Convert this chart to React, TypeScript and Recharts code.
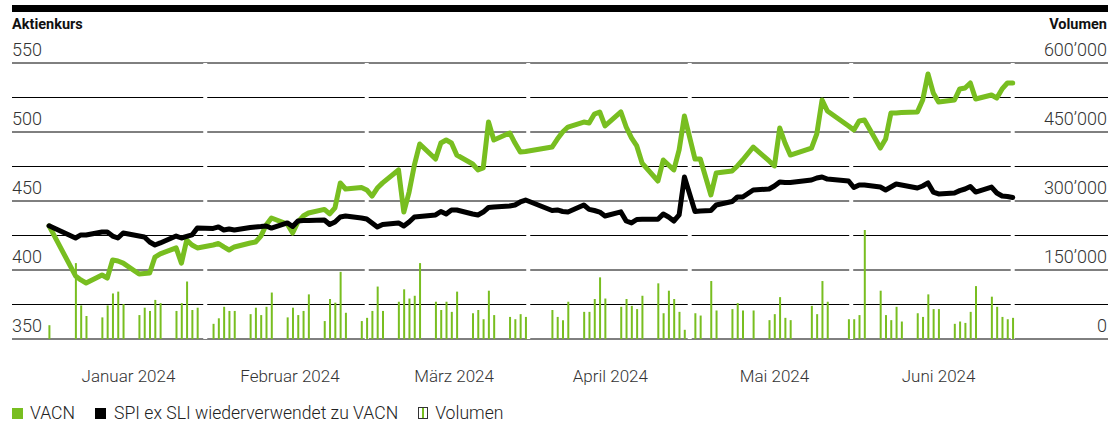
import { ComposedChart, Line, Bar, XAxis, YAxis, CartesianGrid } from "recharts"

const dates = [
  "2023-12-29",
  "2024-01-03", "2024-01-04", "2024-01-05",
  "2024-01-08", "2024-01-09", "2024-01-10", "2024-01-11", "2024-01-12",
  "2024-01-15", "2024-01-16", "2024-01-17", "2024-01-18", "2024-01-19",
  "2024-01-22", "2024-01-23", "2024-01-24", "2024-01-25", "2024-01-26",
  "2024-01-29", "2024-01-30", "2024-01-31", "2024-02-01", "2024-02-02",
  "2024-02-05", "2024-02-06", "2024-02-07", "2024-02-08", "2024-02-09",
  "2024-02-12", "2024-02-13", "2024-02-14", "2024-02-15", "2024-02-16",
  "2024-02-19", "2024-02-20", "2024-02-21", "2024-02-22", "2024-02-23",
  "2024-02-26", "2024-02-27", "2024-02-28", "2024-02-29", "2024-03-01",
  "2024-03-04", "2024-03-05", "2024-03-06", "2024-03-07", "2024-03-08",
  "2024-03-11", "2024-03-12", "2024-03-13", "2024-03-14", "2024-03-15",
  "2024-03-18", "2024-03-19", "2024-03-20", "2024-03-21", "2024-03-22",
  "2024-03-25", "2024-03-26", "2024-03-27", "2024-03-28",
  "2024-04-02", "2024-04-03", "2024-04-04", "2024-04-05",
  "2024-04-08", "2024-04-09", "2024-04-10", "2024-04-11", "2024-04-12",
  "2024-04-15", "2024-04-16", "2024-04-17", "2024-04-18", "2024-04-19",
  "2024-04-22", "2024-04-23", "2024-04-24", "2024-04-25", "2024-04-26", "2024-04-27",
  "2024-04-29", "2024-04-30", "2024-05-02", "2024-05-03",
  "2024-05-06", "2024-05-07", "2024-05-08", "2024-05-10",
  "2024-05-13", "2024-05-14", "2024-05-15", "2024-05-16", "2024-05-17",
  "2024-05-21", "2024-05-22", "2024-05-23", "2024-05-24",
  "2024-05-28", "2024-05-29", "2024-05-30", "2024-05-31",
  "2024-06-03", "2024-06-04", "2024-06-05", "2024-06-06", "2024-06-07",
  "2024-06-10", "2024-06-11", "2024-06-12", "2024-06-13", "2024-06-14",
  "2024-06-17", "2024-06-18", "2024-06-19", "2024-06-20", "2024-06-21",
  "2024-06-24", "2024-06-25", "2024-06-26", "2024-06-27", "2024-06-28",
]

const vacn = [
  432,
  395.7, 392.8, 390.6,
  396.4, 394.2, 407.3, 406.5, 405,
  397.1, 397.5, 397.8, 409.4, 411.7,
  416, 405, 421.7, 418.1, 416,
  418.1, 419.2, 416.7, 414.5, 416.7,
  419.6, 420.3, 424.6, 432.6, 437.7,
  433.3, 426.8, 434.8, 439.1, 441.3,
  443.9, 440.6, 445.1, 463.1, 458.7,
  459.8, 458, 453.6, 459.4, 463.1,
  472.5, 442, 456.5, 476.1, 491.3,
  480.4, 492, 494.2, 492, 483.3,
  476.8, 472.5, 473.9, 507.2, 494.2,
  499.3, 492, 485.5, 485.9,
  489.1, 494.9, 500, 503.6,
  507.2, 506.5, 513, 514.5, 504.4,
  514.5, 503.6, 495.7, 489.9, 477.5,
  464.5, 479.7, 476.1, 472.5, 487, 511.6,
  480.4, 480.4, 454.4, 470.3,
  471.7, 475.4, 479.7, 489.1,
  479, 475.4, 502.9, 492, 483.3,
  488.4, 498.6, 523.2, 515.2,
  504.4, 501.5, 508, 508.7,
  488.4, 494.9, 513.8, 513.8, 514.1,
  514.5, 523.2, 542, 528.3, 521.7,
  523.2, 531.2, 531.9, 535.5, 523.9,
  526.8, 524.6, 531.2, 535.5, 535.5,
]

const spi = [
  432,
  423.2, 425.4, 425.4,
  427.5, 427.5, 424.6, 423.2, 426.8,
  424.6, 423.9, 420.3, 418.1, 419.6,
  424.6, 423.2, 424.3, 425.4, 430.4,
  430.1, 431.2, 429, 429.7, 429,
  430.8, 431.2, 431.5, 431.9, 430.4,
  434.1, 431.5, 435.5, 435.9, 435.9,
  436.2, 433, 434.8, 438.4, 439.1,
  437.7, 437, 434.1, 431.2, 433,
  434.1, 431.9, 434.8, 438.4, 438.8,
  439.9, 442.4, 440.6, 443.5, 443.5,
  440.6, 439.9, 442, 445.3, 445.7,
  446.4, 447.1, 449.3, 450.7,
  443.1, 443.5, 442.4, 442,
  447.1, 443.9, 443.1, 442, 439.1,
  442.1, 435.5, 434.1, 436.6, 436.7,
  436.7, 440.6, 438.4, 435.5, 439.9, 467.4,
  442.4, 442.8, 443.1, 447.1,
  449.6, 452.9, 452.9, 458,
  458.7, 460.9, 463.8, 463.4, 463.4,
  465.2, 466.7, 467.4, 465.9,
  464.5, 459.8, 461.6, 461.6,
  460.1, 458, 460.1, 462.3, 461.6,
  459.4, 460.9, 463.1, 456.5, 455.1,
  455.8, 457.5, 458.7, 460.5, 456.5,
  460.1, 455.8, 453.6, 453.3, 452.5,
]

const volume = [
  30000,
  165000, 73000, 50000,
  47000, 73000, 99000, 103000, 76000,
  52000, 68000, 61000, 85000, 78000,
  61000, 78000, 125000, 63000, 68000,
  33000, 45000, 70000, 61000, 61000,
  54000, 68000, 52000, 70000, 101000,
  47000, 68000, 52000, 61000, 97000,
  39000, 87000, 79000, 146000, 57000,
  39000, 46000, 61000, 114000, 61000,
  81000, 108000, 88000, 94000, 165000,
  81000, 63000, 81000, 59000, 103000,
  56000, 63000, 43000, 105000, 52000,
  48000, 43000, 54000, 48000,
  63000, 48000, 41000, 81000,
  59000, 59000, 87000, 134000, 88000,
  70000, 87000, 72000, 65000, 94000,
  121000, 56000, 105000, 87000, 59000, 20000,
  56000, 51000, 126000, 62000,
  65000, 78000, 62000, 62000,
  41000, 54000, 91000, 46000, 41000,
  72000, 54000, 126000, 81000,
  43000, 43000, 52000, 237000,
  105000, 52000, 41000, 70000, 38000,
  56000, 48000, 97000, 65000, 65000,
  33000, 38000, 35000, 59000, 115000,
  92000, 70000, 48000, 43000, 46000,
]

const monthLabels = ["Januar 2024", "Februar 2024", "März 2024", "April 2024", "Mai 2024", "Juni 2024"]
// label positions and grid gaps, in days after 29.12.2023
const monthTicks = [15, 45.5, 76.5, 106, 137, 168]
const gapTicks = [29.5, 60, 90.5, 121, 151.5, 182]
const priceTicks = [350, 375, 400, 425, 450, 475, 500, 525, 550]
const volumeTicks = [0, 150000, 300000, 450000, 600000]

const X_DOMAIN = [-7, 200]
const GREEN = "#78BE20"
const FONT = "Roboto, 'Noto Sans', sans-serif"
const DAY = 86400000
const start = Date.parse(dates[0])

const data = dates.map((date, i) => ({
  d: Math.round((Date.parse(date) - start) / DAY),
  vacn: vacn[i],
  spi: spi[i],
  volume: volume[i],
}))

const fmtVol = (v: number) => String(v).replace(/\B(?=(\d{3})+(?!\d))/g, "\u2019")

// white cuts through the horizontal grid, one per month block
const gapCoords = ({ xAxis, offset }: any) =>
  gapTicks.map((t) =>
    xAxis && typeof xAxis.scale === "function"
      ? xAxis.scale(t)
      : offset.left + ((t - X_DOMAIN[0]) / (X_DOMAIN[1] - X_DOMAIN[0])) * offset.width
  )

const LeftTick = ({ y, payload }: any) =>
  payload.value % 50 === 0 ? (
    <text x={12} y={y - 7} fontSize={18} fontWeight={300} fill="#333" fontFamily={FONT}>
      {payload.value}
    </text>
  ) : (
    <g />
  )

const RightTick = ({ y, payload }: any) => (
  <text x={1107} y={y - 7} fontSize={18} fontWeight={300} fill="#333" fontFamily={FONT} textAnchor="end">
    {fmtVol(payload.value)}
  </text>
)

const MonthTick = ({ x, index }: any) => (
  <text x={x} y={382} fontSize={17} fontWeight={300} fill="#333" fontFamily={FONT} textAnchor="middle">
    {monthLabels[index] ?? ""}
  </text>
)

const legendText = { fontSize: 17.6, fontWeight: 300, color: "#222", marginRight: 20 }

export default function App() {
  return (
    <div style={{ position: "relative", width: 1109, height: 423, fontFamily: FONT, background: "#fff" }}>
      <style>{`body{margin:0}`}</style>
      <div style={{ position: "absolute", left: 12, top: 5, width: 1096, height: 7, background: "#000" }} />
      <div style={{ position: "absolute", left: 12, top: 17, fontSize: 14.5, fontWeight: 700, lineHeight: "16px", color: "#111" }}>
        Aktienkurs
      </div>
      <div style={{ position: "absolute", right: 2, top: 17, fontSize: 14.5, fontWeight: 700, lineHeight: "16px", color: "#111" }}>
        Volumen
      </div>
      <ComposedChart
        width={1109}
        height={395}
        data={data}
        margin={{ top: 63, right: 0, bottom: 0, left: 11 }}
      >
        <CartesianGrid vertical={false} yAxisId="price" stroke="#000" strokeWidth={1} />
        <CartesianGrid horizontal={false} verticalCoordinatesGenerator={gapCoords} stroke="#fff" strokeWidth={4} />
        <XAxis
          dataKey="d"
          type="number"
          domain={X_DOMAIN}
          ticks={monthTicks}
          tick={<MonthTick />}
          axisLine={false}
          tickLine={false}
          height={56}
          interval={0}
        />
        <YAxis
          yAxisId="price"
          domain={[350, 550]}
          ticks={priceTicks}
          tick={<LeftTick />}
          axisLine={false}
          tickLine={false}
          width={1}
          interval={0}
        />
        <YAxis
          yAxisId="vol"
          orientation="right"
          domain={[0, 600000]}
          ticks={volumeTicks}
          tick={<RightTick />}
          axisLine={false}
          tickLine={false}
          width={1}
          interval={0}
        />
        <Bar yAxisId="vol" dataKey="volume" fill={GREEN} barSize={2} isAnimationActive={false} />
        <Line
          yAxisId="price"
          dataKey="vacn"
          type="linear"
          stroke={GREEN}
          strokeWidth={5}
          strokeLinejoin="round"
          strokeLinecap="round"
          dot={false}
          isAnimationActive={false}
        />
        <Line
          yAxisId="price"
          dataKey="spi"
          type="linear"
          stroke="#000"
          strokeWidth={5}
          strokeLinejoin="round"
          strokeLinecap="round"
          dot={false}
          isAnimationActive={false}
        />
      </ComposedChart>
      <div style={{ position: "absolute", left: 12, top: 403, display: "flex", alignItems: "center", lineHeight: "20px" }}>
        <span style={{ width: 11, height: 11, background: GREEN, marginRight: 7 }} />
        <span style={legendText}>VACN</span>
        <span style={{ width: 11, height: 11, background: "#000", marginRight: 8 }} />
        <span style={legendText}>SPI ex SLI wiederverwendet zu VACN</span>
        <span
          style={{
            width: 8,
            height: 10,
            border: "1px solid #333",
            marginRight: 7,
            position: "relative",
            boxSizing: "content-box",
          }}
        >
          <span style={{ position: "absolute", left: 3, top: 0, width: 2, height: 10, background: GREEN }} />
        </span>
        <span style={legendText}>Volumen</span>
      </div>
    </div>
  )
}
